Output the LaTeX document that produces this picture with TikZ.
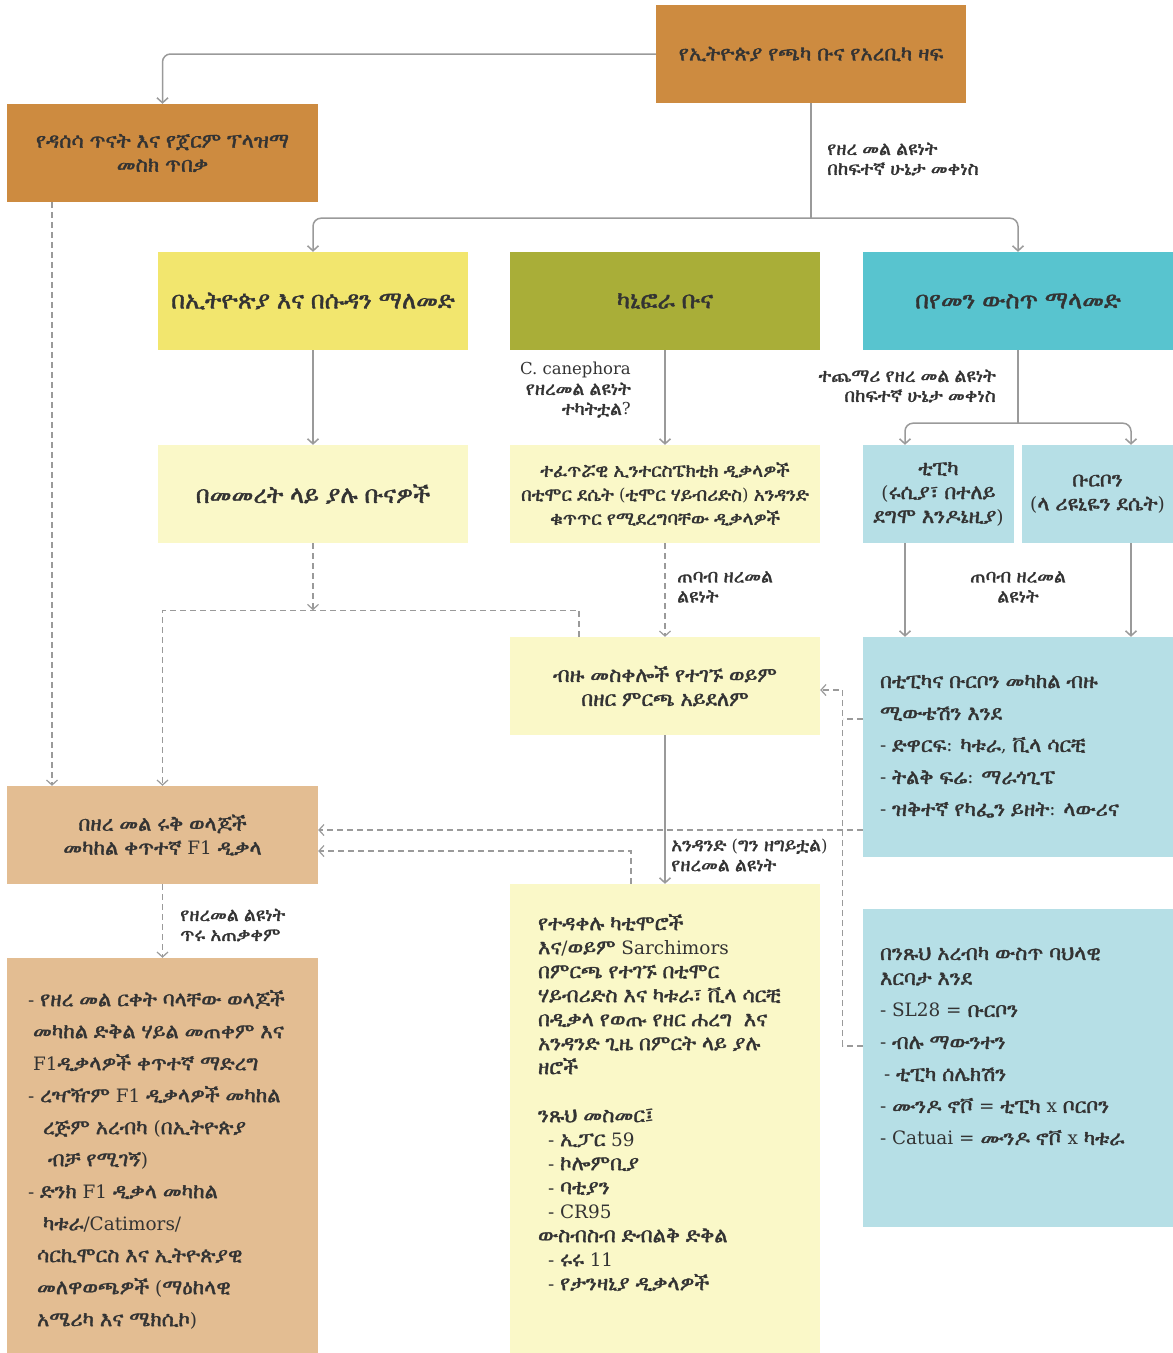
\documentclass[tikz,border=0pt]{standalone}
\usepackage{fontspec}
\usepackage{xcolor}
\usetikzlibrary{arrows.meta}
\setmainfont{DejaVu Serif}[Scale=0.97]
\newfontfamily\ethsans{FreeSans}[Scale=1.1, FakeBold=1.5]
\newfontfamily\ethserif{FreeSerif}[Scale=1.1, FakeBold=1.5]
\newfontfamily\ethsil{Abyssinica SIL}[Scale=1.1]
% pick a face that has the Ethiopic letters
\let\ethfont\ethsil
\setbox0=\hbox{\ethserif\iffontchar\font"12A0 \global\let\ethfont\ethserif\fi}
\setbox0=\hbox{\ethsans\iffontchar\font"12A0 \global\let\ethfont\ethsans\fi}

% Ethiopic letters (U+1200--U+139F) switch to the Ethiopic face
\XeTeXinterchartokenstate=1
\newXeTeXintercharclass\ethclass
\makeatletter
\count@="1200
\loop\ifnum\count@<"13A0
  \XeTeXcharclass\count@=\ethclass
  \advance\count@ by 1
\repeat
\makeatother
\XeTeXinterchartoks 0 \ethclass = {\ethfont}
\XeTeXinterchartoks 4095 \ethclass = {\ethfont}
\XeTeXinterchartoks \ethclass 0 = {\rmfamily}
\XeTeXinterchartoks \ethclass 4095 = {\rmfamily}

\definecolor{treeorange}{HTML}{CD8B40}
\definecolor{hybridtan}{HTML}{E3BD92}
\definecolor{sudanyellow}{HTML}{F2E66E}
\definecolor{robustaolive}{HTML}{A9AE38}
\definecolor{yemencyan}{HTML}{58C4CF}
\definecolor{paleyellow}{HTML}{FAF8C8}
\definecolor{paleblue}{HTML}{B6DFE6}
\definecolor{linegray}{HTML}{9A9A9A}
\definecolor{inkgray}{HTML}{333333}

% text block anchored at the top of a tall box
\newcommand{\blocktext}[5]{\parbox[c][#2][t]{#1}{\raggedright\leftskip=#3\relax\vspace*{#4}#5}}

\begin{document}
\begin{tikzpicture}[
    x=1pt, y=-1pt,
    box/.style={rectangle, inner sep=0pt, text=inkgray, align=center,
                minimum width=310, minimum height=98,
                font=\fontsize{19}{24}\selectfont},
    bigbox/.style={box, font=\fontsize{22}{28}\selectfont},
    lbl/.style={inner sep=0pt, text=inkgray, font=\fontsize{17}{20}\selectfont},
    plain/.style={draw=linegray, line width=1.5pt},
    link/.style={plain, -{Straight Barb[length=5pt,width=11pt]}, rounded corners=8pt},
    dline/.style={draw=linegray, line width=1.2pt, dash pattern=on 6pt off 4pt},
    dlink/.style={dline, -{Straight Barb[length=5pt,width=11pt]}}
]
\useasboundingbox (0,0) rectangle (1173,1353);

% Top row
\node[box, fill=treeorange] (tree) at (811,54) {የኢትዮጵያ የጫካ ቡና የአረቢካ ዛፍ};
\node[box, fill=treeorange, minimum width=311] (survey) at (162.5,153)
      {የዳሰሳ ጥናት እና የጀርም ፕላዝማ\\መስክ ጥበቃ};

% Second row
\node[bigbox, fill=sudanyellow] (ethsudan) at (313,301) {በኢትዮጵያ እና በሱዳን ማለመድ};
\node[bigbox, fill=robustaolive] (canephora) at (665,301) {ካኒፎራ ቡና};
\node[bigbox, fill=yemencyan] (yemen) at (1018,301) {በየመን ውስጥ ማላመድ};

% Third row
\node[bigbox, fill=paleyellow] (cultivated) at (313,494) {በመመረት ላይ ያሉ ቡናዎች};
\node[box, fill=paleyellow, font=\fontsize{17}{24}\selectfont] (timor) at (665,494)
      {ተፈጥሯዊ ኢንተርስፔክቲክ ዲቃላዎች\\በቲሞር ደሴት (ቲሞር ሃይብሪድስ) አንዳንድ\\ቁጥጥር የሚደረግባቸው ዲቃላዎች};
\node[box, fill=paleblue, minimum width=151] (typica) at (938.5,494)
      {ቲፒካ\\(ሩሲያ፣ በተለይ\\ደግሞ እንዶኔዚያ)};
\node[box, fill=paleblue, minimum width=151] (bourbon) at (1097.5,494)
      {ቡርቦን\\(ላ ሪዩኒዬን ደሴት)};

% Fourth row
\node[box, fill=paleyellow] (crosses) at (665,686)
      {ብዙ መስቀሎች የተገኙ ወይም\\በዘር ምርጫ አይደለም};
\node[box, fill=paleblue, minimum height=220] (mutations) at (1018,747)
      {\blocktext{310pt}{220pt}{17pt}{38pt}{\fontsize{19}{32}\selectfont
       በቲፒካና ቡርቦን መካከል ብዙ\\ሚውቴሽን እንደ\\- ድዋርፍ: ካቱራ, ቪላ ሳርቺ\\- ትልቅ ፍሬ: ማራጎጊፔ\\- ዝቅተኛ የካፌን ይዘት: ላውሪና}};
\node[box, fill=hybridtan, minimum width=311] (f1) at (162.5,835)
      {በዘረ መል ሩቅ ወላጆች\\መካከል ቀጥተኛ F1 ዲቃላ};

% Bottom row
\node[box, fill=hybridtan, minimum width=311, minimum height=395] (f1list) at (162.5,1155.5)
      {\blocktext{311pt}{395pt}{21pt}{32pt}{\fontsize{19}{32}\selectfont
       - የዘረ መል ርቀት ባላቸው ወላጆች\\
       \hspace*{5pt}መካከል ድቅል ሃይል መጠቀም እና\\
       \hspace*{5pt}F1ዲቃላዎች ቀጥተኛ ማድረግ\\
       - ረዣዥም F1 ዲቃላዎች መካከል\\
       \hspace*{15pt}ረጅም አረብካ (በኢትዮጵያ\\
       \hspace*{20pt}ብቻ የሚገኝ)\\
       - ድንክ F1 ዲቃላ መካከል\\
       \hspace*{15pt}ካቱራ/Catimors/\\
       \hspace*{9pt}ሳርኪሞርስ እና ኢትዮጵያዊ\\
       \hspace*{9pt}መለዋወጫዎች (ማዕከላዊ\\
       \hspace*{9pt}አሜሪካ እና ሜክሲኮ)}};
\node[box, fill=paleyellow, minimum height=469] (derived) at (665,1118.5)
      {\blocktext{310pt}{469pt}{28pt}{30pt}{\fontsize{19}{24}\selectfont
       የተዳቀሉ ካቲሞሮች\\እና/ወይም Sarchimors\\በምርጫ የተገኙ በቲሞር\\
       ሃይብሪድስ እና ካቱራ፣ ቪላ ሳርቺ\\በዲቃላ የወጡ የዘር ሐረግ\ \ እና\\
       አንዳንድ ጊዜ በምርት ላይ ያሉ\\ዘሮች\\[24pt]
       ንጹህ መስመር፤\\
       \hspace*{10pt}- ኢፓር 59\\\hspace*{10pt}- ኮሎምቢያ\\
       \hspace*{10pt}- ባቲያን\\\hspace*{10pt}- CR95\\
       ውስብስብ ድብልቅ ድቅል\\
       \hspace*{10pt}- ሩሩ 11\\\hspace*{10pt}- የታንዛኒያ ዲቃላዎች}};
\node[box, fill=paleblue, minimum height=318] (traditional) at (1018,1068)
      {\blocktext{310pt}{318pt}{17pt}{38pt}{\fontsize{19}{32}\selectfont
       በንጹህ አረብካ ውስጥ ባህላዊ\\[-7pt]እርባታ እንደ\\- SL28 = ቡርቦን\\- ብሉ ማውንተን\\
       \hspace*{4pt}- ቲፒካ ሰሌክሽን\\- ሙንዶ ኖቮ = ቲፒካ x ቦርቦን\\- Catuai = ሙንዶ ኖቮ x ካቱራ}};

% Solid connectors
\draw[link] (tree.west) -| (survey.north);
\path (tree.south) ++(0,115) coordinate (split);
\draw[plain] (tree.south) -- (split);
\draw[link] (split) -| (ethsudan.north);
\draw[link] (split) -| (yemen.north);
\draw[link] (ethsudan) -- (cultivated);
\draw[link] (canephora) -- (timor);
\path (yemen.south) ++(0,73) coordinate (yemensplit);
\draw[plain] (yemen.south) -- (yemensplit);
\draw[link] (yemensplit) -| ([xshift=-33.5pt]typica.north);
\draw[link] (yemensplit) -| ([xshift=33.5pt]bourbon.north);
\draw[link] ([xshift=-33.5pt]typica.south) -- ([xshift=-33.5pt]typica.south |- mutations.north);
\draw[link] ([xshift=33.5pt]bourbon.south) -- ([xshift=33.5pt]bourbon.south |- mutations.north);
\draw[link] (crosses) -- (derived);

% Dashed connectors
\draw[dlink] (timor) -- (crosses);
\path (cultivated.south) ++(0,67) coordinate (merge);
\draw[dlink] (cultivated.south) -- (merge);
\draw[dlink] ([xshift=-86pt]crosses.north) |- (merge) -| (f1.north);
\draw[dlink] ([xshift=-110.5pt]survey.south) -- ([xshift=-110.5pt]survey.south |- f1.north);
\draw[dlink] ([yshift=-83pt]mutations.west) -- ([yshift=-83pt]mutations.west -| f1.east);
\draw[dlink] ([xshift=-34pt]derived.north) |- ([yshift=-16pt]f1.east);
\draw[dlink] ([yshift=22pt]traditional.west) -- ++(-20,0) |- ([yshift=-4pt]crosses.east);
\draw[dline] ([yshift=28pt]mutations.west) -- ++(-20,0);
\draw[dlink] (f1) -- (f1list);

% Connector labels
\node[lbl, anchor=west, align=left] (lblsplit) at (827,159)
      {የዘረ መል ልዩነት\\በከፍተኛ ሁኔታ መቀነስ};
\node[lbl, anchor=east, align=right] (lblcane) at (631,390)
      {C. canephora\\የዘረመል ልዩነት\\ተካትቷል?};
\node[lbl, anchor=east, align=right] (lblyemen) at (996,386)
      {ተጨማሪ የዘረ መል ልዩነት\\በከፍተኛ ሁኔታ መቀነስ};
\node[lbl, anchor=west, align=left] (lblnarrowa) at (677,587) {ጠባብ ዘረመል\\ልዩነት};
\node[lbl, align=center] (lblnarrowb) at (1018,587) {ጠባብ ዘረመል\\ልዩነት};
\node[lbl, anchor=west, align=left] (lbllate) at (671,855)
      {አንዳንድ (ግን ዘግይቷል)\\የዘረመል ልዩነት};
\node[lbl, anchor=west, align=left] (lbluse) at (180,925)
      {የዘረመል ልዩነት\\ጥሩ አጠቃቀም};
\end{tikzpicture}
\end{document}
